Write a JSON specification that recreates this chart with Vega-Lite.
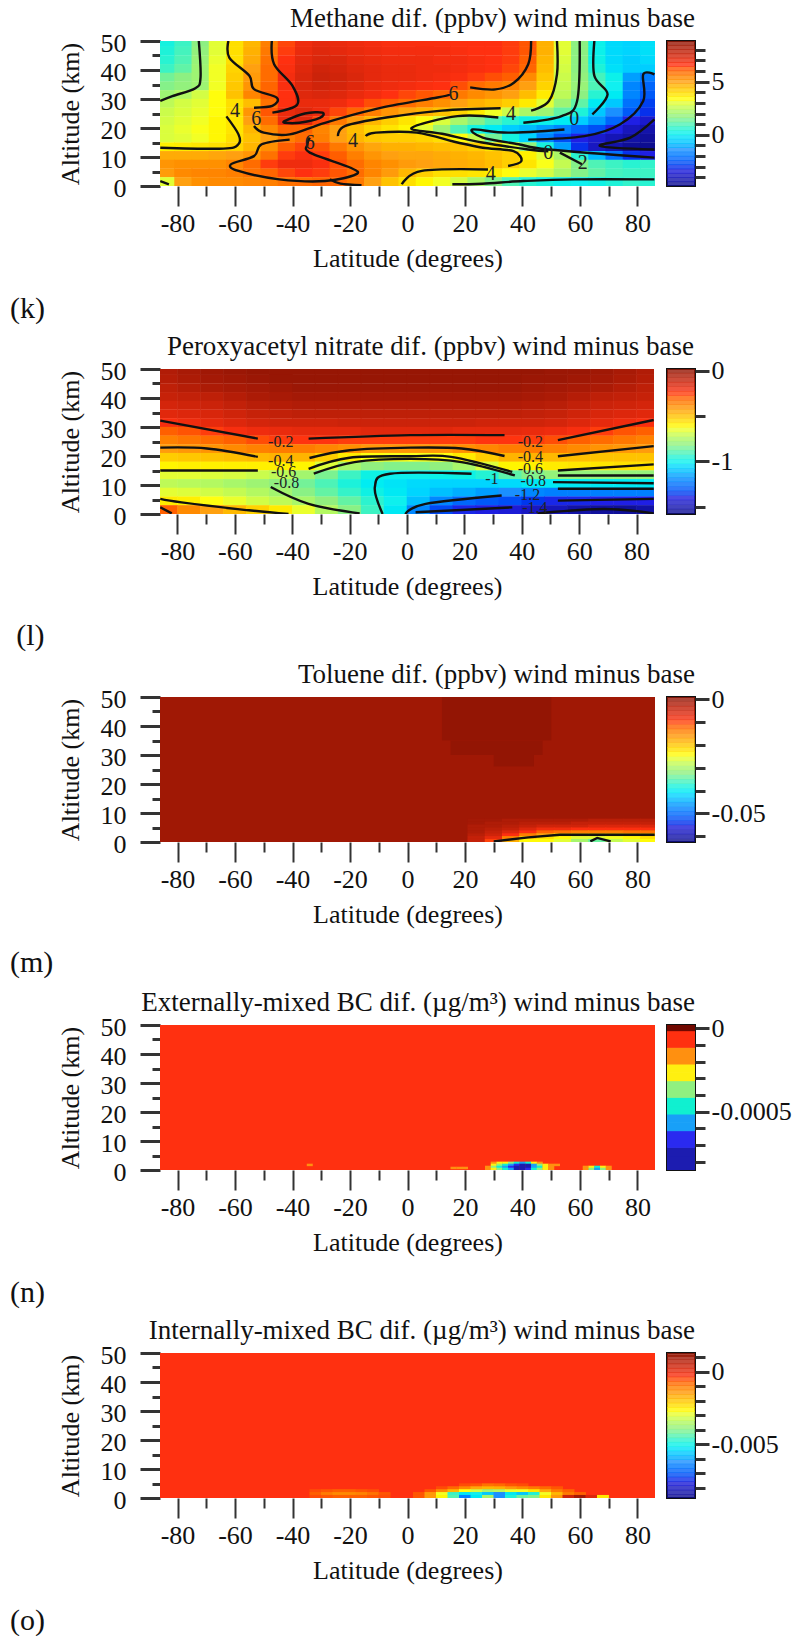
{"$schema":"https://vega.github.io/schema/vega-lite/v6.json","background":"white","padding":{"top":5,"left":0,"right":0,"bottom":0},"config":{"view":{"stroke":null},"axis":{"labelFont":"Liberation Serif","titleFont":"Liberation Serif","labelFontSize":26,"titleFontSize":26,"titleFontWeight":"normal","domain":false,"grid":false,"tickColor":"#333","labelColor":"#111","titleColor":"#111","labelOverlap":false,"labelFlush":false},"title":{"font":"Liberation Serif","fontSize":27,"fontWeight":"normal","color":"#111","anchor":"end","dx":40,"offset":-3}},
"datasets":{
"k":[{"lat":-84,"alt":49.5,"v":0.4},{"lat":-78,"alt":49.5,"v":0.8},{"lat":-72,"alt":49.5,"v":1.7},{"lat":-66,"alt":49.5,"v":3.0},{"lat":-60,"alt":49.5,"v":3.9},{"lat":-54,"alt":49.5,"v":4.6},{"lat":-48,"alt":49.5,"v":5.6},{"lat":-42,"alt":49.5,"v":6.4},{"lat":-36,"alt":49.5,"v":6.9},{"lat":-30,"alt":49.5,"v":7.1},{"lat":-24,"alt":49.5,"v":7.0},{"lat":-18,"alt":49.5,"v":6.9},{"lat":-12,"alt":49.5,"v":6.8},{"lat":-6,"alt":49.5,"v":6.7},{"lat":0,"alt":49.5,"v":6.7},{"lat":6,"alt":49.5,"v":6.7},{"lat":12,"alt":49.5,"v":6.7},{"lat":18,"alt":49.5,"v":6.6},{"lat":24,"alt":49.5,"v":6.6},{"lat":30,"alt":49.5,"v":6.6},{"lat":36,"alt":49.5,"v":6.5},{"lat":42,"alt":49.5,"v":6.2},{"lat":48,"alt":49.5,"v":4.7},{"lat":54,"alt":49.5,"v":3.0},{"lat":60,"alt":49.5,"v":1.7},{"lat":66,"alt":49.5,"v":0.2},{"lat":72,"alt":49.5,"v":-0.3},{"lat":78,"alt":49.5,"v":-0.4},{"lat":84,"alt":49.5,"v":-0.2},
{"lat":-84,"alt":46.5,"v":0.5},{"lat":-78,"alt":46.5,"v":0.9},{"lat":-72,"alt":46.5,"v":1.8},{"lat":-66,"alt":46.5,"v":3.0},{"lat":-60,"alt":46.5,"v":3.9},{"lat":-54,"alt":46.5,"v":4.7},{"lat":-48,"alt":46.5,"v":5.7},{"lat":-42,"alt":46.5,"v":6.5},{"lat":-36,"alt":46.5,"v":7.0},{"lat":-30,"alt":46.5,"v":7.2},{"lat":-24,"alt":46.5,"v":7.1},{"lat":-18,"alt":46.5,"v":7.0},{"lat":-12,"alt":46.5,"v":6.9},{"lat":-6,"alt":46.5,"v":6.8},{"lat":0,"alt":46.5,"v":6.8},{"lat":6,"alt":46.5,"v":6.8},{"lat":12,"alt":46.5,"v":6.8},{"lat":18,"alt":46.5,"v":6.7},{"lat":24,"alt":46.5,"v":6.6},{"lat":30,"alt":46.5,"v":6.6},{"lat":36,"alt":46.5,"v":6.5},{"lat":42,"alt":46.5,"v":6.2},{"lat":48,"alt":46.5,"v":4.7},{"lat":54,"alt":46.5,"v":3.0},{"lat":60,"alt":46.5,"v":1.7},{"lat":66,"alt":46.5,"v":0.2},{"lat":72,"alt":46.5,"v":-0.3},{"lat":78,"alt":46.5,"v":-0.4},{"lat":84,"alt":46.5,"v":-0.2},
{"lat":-84,"alt":43.5,"v":0.6},{"lat":-78,"alt":43.5,"v":1.0},{"lat":-72,"alt":43.5,"v":1.9},{"lat":-66,"alt":43.5,"v":3.1},{"lat":-60,"alt":43.5,"v":3.9},{"lat":-54,"alt":43.5,"v":4.8},{"lat":-48,"alt":43.5,"v":5.8},{"lat":-42,"alt":43.5,"v":6.6},{"lat":-36,"alt":43.5,"v":7.1},{"lat":-30,"alt":43.5,"v":7.3},{"lat":-24,"alt":43.5,"v":7.3},{"lat":-18,"alt":43.5,"v":7.1},{"lat":-12,"alt":43.5,"v":7.0},{"lat":-6,"alt":43.5,"v":6.9},{"lat":0,"alt":43.5,"v":6.9},{"lat":6,"alt":43.5,"v":6.9},{"lat":12,"alt":43.5,"v":6.8},{"lat":18,"alt":43.5,"v":6.8},{"lat":24,"alt":43.5,"v":6.7},{"lat":30,"alt":43.5,"v":6.6},{"lat":36,"alt":43.5,"v":6.5},{"lat":42,"alt":43.5,"v":6.1},{"lat":48,"alt":43.5,"v":4.6},{"lat":54,"alt":43.5,"v":2.9},{"lat":60,"alt":43.5,"v":1.7},{"lat":66,"alt":43.5,"v":0.3},{"lat":72,"alt":43.5,"v":-0.3},{"lat":78,"alt":43.5,"v":-0.5},{"lat":84,"alt":43.5,"v":-0.3},
{"lat":-84,"alt":40.5,"v":0.8},{"lat":-78,"alt":40.5,"v":1.2},{"lat":-72,"alt":40.5,"v":2.0},{"lat":-66,"alt":40.5,"v":3.2},{"lat":-60,"alt":40.5,"v":4.1},{"lat":-54,"alt":40.5,"v":5.0},{"lat":-48,"alt":40.5,"v":5.9},{"lat":-42,"alt":40.5,"v":6.7},{"lat":-36,"alt":40.5,"v":7.2},{"lat":-30,"alt":40.5,"v":7.5},{"lat":-24,"alt":40.5,"v":7.4},{"lat":-18,"alt":40.5,"v":7.2},{"lat":-12,"alt":40.5,"v":7.1},{"lat":-6,"alt":40.5,"v":7.0},{"lat":0,"alt":40.5,"v":7.0},{"lat":6,"alt":40.5,"v":6.9},{"lat":12,"alt":40.5,"v":6.9},{"lat":18,"alt":40.5,"v":6.8},{"lat":24,"alt":40.5,"v":6.7},{"lat":30,"alt":40.5,"v":6.6},{"lat":36,"alt":40.5,"v":6.4},{"lat":42,"alt":40.5,"v":6.0},{"lat":48,"alt":40.5,"v":4.5},{"lat":54,"alt":40.5,"v":2.8},{"lat":60,"alt":40.5,"v":1.7},{"lat":66,"alt":40.5,"v":0.5},{"lat":72,"alt":40.5,"v":-0.2},{"lat":78,"alt":40.5,"v":-0.5},{"lat":84,"alt":40.5,"v":-0.5},
{"lat":-84,"alt":37.5,"v":1.4},{"lat":-78,"alt":37.5,"v":1.7},{"lat":-72,"alt":37.5,"v":2.0},{"lat":-66,"alt":37.5,"v":3.2},{"lat":-60,"alt":37.5,"v":4.2},{"lat":-54,"alt":37.5,"v":5.1},{"lat":-48,"alt":37.5,"v":5.9},{"lat":-42,"alt":37.5,"v":6.8},{"lat":-36,"alt":37.5,"v":7.3},{"lat":-30,"alt":37.5,"v":7.6},{"lat":-24,"alt":37.5,"v":7.5},{"lat":-18,"alt":37.5,"v":7.3},{"lat":-12,"alt":37.5,"v":7.1},{"lat":-6,"alt":37.5,"v":7.0},{"lat":0,"alt":37.5,"v":7.0},{"lat":6,"alt":37.5,"v":6.9},{"lat":12,"alt":37.5,"v":6.8},{"lat":18,"alt":37.5,"v":6.7},{"lat":24,"alt":37.5,"v":6.5},{"lat":30,"alt":37.5,"v":6.3},{"lat":36,"alt":37.5,"v":6.1},{"lat":42,"alt":37.5,"v":5.4},{"lat":48,"alt":37.5,"v":4.3},{"lat":54,"alt":37.5,"v":2.7},{"lat":60,"alt":37.5,"v":1.8},{"lat":66,"alt":37.5,"v":0.9},{"lat":72,"alt":37.5,"v":0.2},{"lat":78,"alt":37.5,"v":-1.2},{"lat":84,"alt":37.5,"v":-1.8},
{"lat":-84,"alt":34.5,"v":1.6},{"lat":-78,"alt":34.5,"v":1.8},{"lat":-72,"alt":34.5,"v":2.0},{"lat":-66,"alt":34.5,"v":3.2},{"lat":-60,"alt":34.5,"v":4.3},{"lat":-54,"alt":34.5,"v":5.2},{"lat":-48,"alt":34.5,"v":6.0},{"lat":-42,"alt":34.5,"v":6.7},{"lat":-36,"alt":34.5,"v":7.3},{"lat":-30,"alt":34.5,"v":7.5},{"lat":-24,"alt":34.5,"v":7.4},{"lat":-18,"alt":34.5,"v":7.2},{"lat":-12,"alt":34.5,"v":7.0},{"lat":-6,"alt":34.5,"v":6.9},{"lat":0,"alt":34.5,"v":6.8},{"lat":6,"alt":34.5,"v":6.7},{"lat":12,"alt":34.5,"v":6.6},{"lat":18,"alt":34.5,"v":6.3},{"lat":24,"alt":34.5,"v":5.9},{"lat":30,"alt":34.5,"v":5.7},{"lat":36,"alt":34.5,"v":5.5},{"lat":42,"alt":34.5,"v":5.0},{"lat":48,"alt":34.5,"v":4.1},{"lat":54,"alt":34.5,"v":2.6},{"lat":60,"alt":34.5,"v":1.9},{"lat":66,"alt":34.5,"v":1.0},{"lat":72,"alt":34.5,"v":0.1},{"lat":78,"alt":34.5,"v":-1.6},{"lat":84,"alt":34.5,"v":-2.2},
{"lat":-84,"alt":31.5,"v":2.0},{"lat":-78,"alt":31.5,"v":2.3},{"lat":-72,"alt":31.5,"v":2.8},{"lat":-66,"alt":31.5,"v":3.4},{"lat":-60,"alt":31.5,"v":4.4},{"lat":-54,"alt":31.5,"v":5.5},{"lat":-48,"alt":31.5,"v":6.1},{"lat":-42,"alt":31.5,"v":6.6},{"lat":-36,"alt":31.5,"v":7.2},{"lat":-30,"alt":31.5,"v":7.3},{"lat":-24,"alt":31.5,"v":7.2},{"lat":-18,"alt":31.5,"v":7.0},{"lat":-12,"alt":31.5,"v":6.8},{"lat":-6,"alt":31.5,"v":6.6},{"lat":0,"alt":31.5,"v":6.4},{"lat":6,"alt":31.5,"v":6.2},{"lat":12,"alt":31.5,"v":6.0},{"lat":18,"alt":31.5,"v":5.7},{"lat":24,"alt":31.5,"v":5.4},{"lat":30,"alt":31.5,"v":5.2},{"lat":36,"alt":31.5,"v":5.0},{"lat":42,"alt":31.5,"v":4.5},{"lat":48,"alt":31.5,"v":3.7},{"lat":54,"alt":31.5,"v":2.5},{"lat":60,"alt":31.5,"v":1.7},{"lat":66,"alt":31.5,"v":0.6},{"lat":72,"alt":31.5,"v":0.0},{"lat":78,"alt":31.5,"v":-1.6},{"lat":84,"alt":31.5,"v":-2.4},
{"lat":-84,"alt":28.5,"v":2.5},{"lat":-78,"alt":28.5,"v":2.8},{"lat":-72,"alt":28.5,"v":3.0},{"lat":-66,"alt":28.5,"v":3.4},{"lat":-60,"alt":28.5,"v":3.9},{"lat":-54,"alt":28.5,"v":4.5},{"lat":-48,"alt":28.5,"v":5.8},{"lat":-42,"alt":28.5,"v":6.6},{"lat":-36,"alt":28.5,"v":7.0},{"lat":-30,"alt":28.5,"v":7.0},{"lat":-24,"alt":28.5,"v":6.9},{"lat":-18,"alt":28.5,"v":6.6},{"lat":-12,"alt":28.5,"v":6.3},{"lat":-6,"alt":28.5,"v":6.1},{"lat":0,"alt":28.5,"v":5.9},{"lat":6,"alt":28.5,"v":5.6},{"lat":12,"alt":28.5,"v":5.3},{"lat":18,"alt":28.5,"v":5.0},{"lat":24,"alt":28.5,"v":4.7},{"lat":30,"alt":28.5,"v":4.5},{"lat":36,"alt":28.5,"v":4.2},{"lat":42,"alt":28.5,"v":3.7},{"lat":48,"alt":28.5,"v":3.0},{"lat":54,"alt":28.5,"v":2.0},{"lat":60,"alt":28.5,"v":1.2},{"lat":66,"alt":28.5,"v":0.0},{"lat":72,"alt":28.5,"v":-0.6},{"lat":78,"alt":28.5,"v":-2.0},{"lat":84,"alt":28.5,"v":-2.8},
{"lat":-84,"alt":25.5,"v":2.7},{"lat":-78,"alt":25.5,"v":2.9},{"lat":-72,"alt":25.5,"v":3.1},{"lat":-66,"alt":25.5,"v":3.4},{"lat":-60,"alt":25.5,"v":3.9},{"lat":-54,"alt":25.5,"v":5.2},{"lat":-48,"alt":25.5,"v":6.2},{"lat":-42,"alt":25.5,"v":7.0},{"lat":-36,"alt":25.5,"v":7.2},{"lat":-30,"alt":25.5,"v":6.9},{"lat":-24,"alt":25.5,"v":6.4},{"lat":-18,"alt":25.5,"v":6.0},{"lat":-12,"alt":25.5,"v":5.6},{"lat":-6,"alt":25.5,"v":5.2},{"lat":0,"alt":25.5,"v":4.9},{"lat":6,"alt":25.5,"v":4.7},{"lat":12,"alt":25.5,"v":4.4},{"lat":18,"alt":25.5,"v":4.1},{"lat":24,"alt":25.5,"v":3.7},{"lat":30,"alt":25.5,"v":3.2},{"lat":36,"alt":25.5,"v":2.7},{"lat":42,"alt":25.5,"v":2.2},{"lat":48,"alt":25.5,"v":2.0},{"lat":54,"alt":25.5,"v":1.2},{"lat":60,"alt":25.5,"v":0.5},{"lat":66,"alt":25.5,"v":-0.6},{"lat":72,"alt":25.5,"v":-1.4},{"lat":78,"alt":25.5,"v":-2.4},{"lat":84,"alt":25.5,"v":-3.0},
{"lat":-84,"alt":22.5,"v":2.8},{"lat":-78,"alt":22.5,"v":3.0},{"lat":-72,"alt":22.5,"v":3.2},{"lat":-66,"alt":22.5,"v":3.5},{"lat":-60,"alt":22.5,"v":3.8},{"lat":-54,"alt":22.5,"v":5.0},{"lat":-48,"alt":22.5,"v":5.9},{"lat":-42,"alt":22.5,"v":7.0},{"lat":-36,"alt":22.5,"v":7.2},{"lat":-30,"alt":22.5,"v":6.4},{"lat":-24,"alt":22.5,"v":5.7},{"lat":-18,"alt":22.5,"v":5.1},{"lat":-12,"alt":22.5,"v":4.6},{"lat":-6,"alt":22.5,"v":4.2},{"lat":0,"alt":22.5,"v":3.8},{"lat":6,"alt":22.5,"v":3.4},{"lat":12,"alt":22.5,"v":2.9},{"lat":18,"alt":22.5,"v":2.2},{"lat":24,"alt":22.5,"v":1.6},{"lat":30,"alt":22.5,"v":1.0},{"lat":36,"alt":22.5,"v":0.6},{"lat":42,"alt":22.5,"v":0.3},{"lat":48,"alt":22.5,"v":0.2},{"lat":54,"alt":22.5,"v":0.0},{"lat":60,"alt":22.5,"v":-0.5},{"lat":66,"alt":22.5,"v":-1.2},{"lat":72,"alt":22.5,"v":-2.2},{"lat":78,"alt":22.5,"v":-3.2},{"lat":84,"alt":22.5,"v":-3.6},
{"lat":-84,"alt":19.5,"v":2.9},{"lat":-78,"alt":19.5,"v":3.1},{"lat":-72,"alt":19.5,"v":3.3},{"lat":-66,"alt":19.5,"v":3.5},{"lat":-60,"alt":19.5,"v":3.8},{"lat":-54,"alt":19.5,"v":4.6},{"lat":-48,"alt":19.5,"v":5.4},{"lat":-42,"alt":19.5,"v":6.0},{"lat":-36,"alt":19.5,"v":6.0},{"lat":-30,"alt":19.5,"v":5.5},{"lat":-24,"alt":19.5,"v":5.0},{"lat":-18,"alt":19.5,"v":4.5},{"lat":-12,"alt":19.5,"v":4.1},{"lat":-6,"alt":19.5,"v":3.8},{"lat":0,"alt":19.5,"v":3.5},{"lat":6,"alt":19.5,"v":3.0},{"lat":12,"alt":19.5,"v":2.0},{"lat":18,"alt":19.5,"v":1.0},{"lat":24,"alt":19.5,"v":0.4},{"lat":30,"alt":19.5,"v":0.0},{"lat":36,"alt":19.5,"v":-0.5},{"lat":42,"alt":19.5,"v":-0.8},{"lat":48,"alt":19.5,"v":-1.2},{"lat":54,"alt":19.5,"v":-1.6},{"lat":60,"alt":19.5,"v":-2.2},{"lat":66,"alt":19.5,"v":-2.6},{"lat":72,"alt":19.5,"v":-3.2},{"lat":78,"alt":19.5,"v":-3.9},{"lat":84,"alt":19.5,"v":-4.2},
{"lat":-84,"alt":16.5,"v":2.9},{"lat":-78,"alt":16.5,"v":3.0},{"lat":-72,"alt":16.5,"v":3.2},{"lat":-66,"alt":16.5,"v":3.5},{"lat":-60,"alt":16.5,"v":3.9},{"lat":-54,"alt":16.5,"v":4.4},{"lat":-48,"alt":16.5,"v":5.0},{"lat":-42,"alt":16.5,"v":5.6},{"lat":-36,"alt":16.5,"v":5.9},{"lat":-30,"alt":16.5,"v":5.6},{"lat":-24,"alt":16.5,"v":5.0},{"lat":-18,"alt":16.5,"v":4.6},{"lat":-12,"alt":16.5,"v":4.3},{"lat":-6,"alt":16.5,"v":4.2},{"lat":0,"alt":16.5,"v":4.2},{"lat":6,"alt":16.5,"v":4.1},{"lat":12,"alt":16.5,"v":3.9},{"lat":18,"alt":16.5,"v":3.4},{"lat":24,"alt":16.5,"v":2.6},{"lat":30,"alt":16.5,"v":1.4},{"lat":36,"alt":16.5,"v":0.4},{"lat":42,"alt":16.5,"v":-0.4},{"lat":48,"alt":16.5,"v":-1.6},{"lat":54,"alt":16.5,"v":-2.6},{"lat":60,"alt":16.5,"v":-3.2},{"lat":66,"alt":16.5,"v":-3.6},{"lat":72,"alt":16.5,"v":-4.0},{"lat":78,"alt":16.5,"v":-4.3},{"lat":84,"alt":16.5,"v":-4.5},
{"lat":-84,"alt":13.5,"v":3.6},{"lat":-78,"alt":13.5,"v":3.7},{"lat":-72,"alt":13.5,"v":3.8},{"lat":-66,"alt":13.5,"v":3.9},{"lat":-60,"alt":13.5,"v":4.1},{"lat":-54,"alt":13.5,"v":4.6},{"lat":-48,"alt":13.5,"v":5.3},{"lat":-42,"alt":13.5,"v":6.1},{"lat":-36,"alt":13.5,"v":6.4},{"lat":-30,"alt":13.5,"v":6.2},{"lat":-24,"alt":13.5,"v":5.7},{"lat":-18,"alt":13.5,"v":5.2},{"lat":-12,"alt":13.5,"v":4.9},{"lat":-6,"alt":13.5,"v":4.7},{"lat":0,"alt":13.5,"v":4.7},{"lat":6,"alt":13.5,"v":4.6},{"lat":12,"alt":13.5,"v":4.5},{"lat":18,"alt":13.5,"v":4.4},{"lat":24,"alt":13.5,"v":4.2},{"lat":30,"alt":13.5,"v":3.8},{"lat":36,"alt":13.5,"v":3.0},{"lat":42,"alt":13.5,"v":1.8},{"lat":48,"alt":13.5,"v":0.4},{"lat":54,"alt":13.5,"v":-1.2},{"lat":60,"alt":13.5,"v":-3.0},{"lat":66,"alt":13.5,"v":-3.8},{"lat":72,"alt":13.5,"v":-4.2},{"lat":78,"alt":13.5,"v":-4.6},{"lat":84,"alt":13.5,"v":-4.7},
{"lat":-84,"alt":10.5,"v":4.8},{"lat":-78,"alt":10.5,"v":4.8},{"lat":-72,"alt":10.5,"v":4.8},{"lat":-66,"alt":10.5,"v":4.9},{"lat":-60,"alt":10.5,"v":5.0},{"lat":-54,"alt":10.5,"v":5.2},{"lat":-48,"alt":10.5,"v":5.8},{"lat":-42,"alt":10.5,"v":6.5},{"lat":-36,"alt":10.5,"v":6.7},{"lat":-30,"alt":10.5,"v":6.5},{"lat":-24,"alt":10.5,"v":6.1},{"lat":-18,"alt":10.5,"v":5.6},{"lat":-12,"alt":10.5,"v":5.2},{"lat":-6,"alt":10.5,"v":5.0},{"lat":0,"alt":10.5,"v":4.9},{"lat":6,"alt":10.5,"v":4.9},{"lat":12,"alt":10.5,"v":4.8},{"lat":18,"alt":10.5,"v":4.7},{"lat":24,"alt":10.5,"v":4.6},{"lat":30,"alt":10.5,"v":4.4},{"lat":36,"alt":10.5,"v":4.2},{"lat":42,"alt":10.5,"v":3.6},{"lat":48,"alt":10.5,"v":3.0},{"lat":54,"alt":10.5,"v":2.2},{"lat":60,"alt":10.5,"v":0.6},{"lat":66,"alt":10.5,"v":-0.8},{"lat":72,"alt":10.5,"v":-2.0},{"lat":78,"alt":10.5,"v":-3.0},{"lat":84,"alt":10.5,"v":-3.2},
{"lat":-84,"alt":7.5,"v":5.2},{"lat":-78,"alt":7.5,"v":5.3},{"lat":-72,"alt":7.5,"v":5.3},{"lat":-66,"alt":7.5,"v":5.3},{"lat":-60,"alt":7.5,"v":5.5},{"lat":-54,"alt":7.5,"v":5.9},{"lat":-48,"alt":7.5,"v":6.5},{"lat":-42,"alt":7.5,"v":6.9},{"lat":-36,"alt":7.5,"v":6.9},{"lat":-30,"alt":7.5,"v":6.7},{"lat":-24,"alt":7.5,"v":6.3},{"lat":-18,"alt":7.5,"v":5.9},{"lat":-12,"alt":7.5,"v":5.5},{"lat":-6,"alt":7.5,"v":5.3},{"lat":0,"alt":7.5,"v":5.1},{"lat":6,"alt":7.5,"v":5.0},{"lat":12,"alt":7.5,"v":4.9},{"lat":18,"alt":7.5,"v":4.8},{"lat":24,"alt":7.5,"v":4.7},{"lat":30,"alt":7.5,"v":4.5},{"lat":36,"alt":7.5,"v":4.2},{"lat":42,"alt":7.5,"v":3.8},{"lat":48,"alt":7.5,"v":3.3},{"lat":54,"alt":7.5,"v":2.6},{"lat":60,"alt":7.5,"v":1.6},{"lat":66,"alt":7.5,"v":1.0},{"lat":72,"alt":7.5,"v":0.8},{"lat":78,"alt":7.5,"v":0.6},{"lat":84,"alt":7.5,"v":0.7},
{"lat":-84,"alt":4.5,"v":5.1},{"lat":-78,"alt":4.5,"v":5.4},{"lat":-72,"alt":4.5,"v":5.5},{"lat":-66,"alt":4.5,"v":5.5},{"lat":-60,"alt":4.5,"v":5.6},{"lat":-54,"alt":4.5,"v":5.8},{"lat":-48,"alt":4.5,"v":6.0},{"lat":-42,"alt":4.5,"v":6.4},{"lat":-36,"alt":4.5,"v":6.6},{"lat":-30,"alt":4.5,"v":6.5},{"lat":-24,"alt":4.5,"v":6.2},{"lat":-18,"alt":4.5,"v":5.9},{"lat":-12,"alt":4.5,"v":5.5},{"lat":-6,"alt":4.5,"v":5.1},{"lat":0,"alt":4.5,"v":4.6},{"lat":6,"alt":4.5,"v":4.2},{"lat":12,"alt":4.5,"v":3.9},{"lat":18,"alt":4.5,"v":3.9},{"lat":24,"alt":4.5,"v":3.8},{"lat":30,"alt":4.5,"v":3.7},{"lat":36,"alt":4.5,"v":3.4},{"lat":42,"alt":4.5,"v":3.1},{"lat":48,"alt":4.5,"v":2.8},{"lat":54,"alt":4.5,"v":2.2},{"lat":60,"alt":4.5,"v":1.6},{"lat":66,"alt":4.5,"v":1.2},{"lat":72,"alt":4.5,"v":0.9},{"lat":78,"alt":4.5,"v":0.8},{"lat":84,"alt":4.5,"v":0.8},
{"lat":-84,"alt":1.5,"v":3.0},{"lat":-78,"alt":1.5,"v":5.0},{"lat":-72,"alt":1.5,"v":5.3},{"lat":-66,"alt":1.5,"v":5.4},{"lat":-60,"alt":1.5,"v":5.4},{"lat":-54,"alt":1.5,"v":5.5},{"lat":-48,"alt":1.5,"v":5.6},{"lat":-42,"alt":1.5,"v":5.8},{"lat":-36,"alt":1.5,"v":5.9},{"lat":-30,"alt":1.5,"v":6.0},{"lat":-24,"alt":1.5,"v":6.0},{"lat":-18,"alt":1.5,"v":5.7},{"lat":-12,"alt":1.5,"v":5.0},{"lat":-6,"alt":1.5,"v":4.4},{"lat":0,"alt":1.5,"v":3.9},{"lat":6,"alt":1.5,"v":3.5},{"lat":12,"alt":1.5,"v":3.2},{"lat":18,"alt":1.5,"v":2.8},{"lat":24,"alt":1.5,"v":2.2},{"lat":30,"alt":1.5,"v":1.6},{"lat":36,"alt":1.5,"v":1.0},{"lat":42,"alt":1.5,"v":0.6},{"lat":48,"alt":1.5,"v":0.4},{"lat":54,"alt":1.5,"v":0.2},{"lat":60,"alt":1.5,"v":0.1},{"lat":66,"alt":1.5,"v":0.3},{"lat":72,"alt":1.5,"v":0.5},{"lat":78,"alt":1.5,"v":0.7},{"lat":84,"alt":1.5,"v":0.6}],
"kc":[{"c":"a","lat":-72.6,"alt":50},{"c":"a","lat":-72,"alt":37.4},{"c":"a","lat":-73.8,"alt":33.7},{"c":"a","lat":-81.8,"alt":31},{"c":"a","lat":-86,"alt":29.3},
{"c":"b","lat":-62.3,"alt":50},{"c":"b","lat":-62,"alt":44.3},{"c":"b","lat":-55,"alt":38},{"c":"b","lat":-53.4,"alt":33.4},{"c":"b","lat":-45.5,"alt":30.5},{"c":"b","lat":-47,"alt":27.6},{"c":"b","lat":-53.4,"alt":27},
{"c":"b2","lat":-63,"alt":24},{"c":"b2","lat":-58.8,"alt":17.8},{"c":"b2","lat":-58.8,"alt":14.4},{"c":"b2","lat":-64,"alt":12.9},{"c":"b2","lat":-86,"alt":13.2},
{"c":"c","lat":-47.2,"alt":50},{"c":"c","lat":-46.4,"alt":42},{"c":"c","lat":-40,"alt":34.5},{"c":"c","lat":-38.4,"alt":28},{"c":"c","lat":-47,"alt":25.3},
{"c":"c2","lat":-53.4,"alt":20.7},{"c":"c2","lat":-50,"alt":18.4},{"c":"c2","lat":-41,"alt":17.8},{"c":"c2","lat":-28.7,"alt":21.8},{"c":"c2","lat":-9,"alt":27},{"c":"c2","lat":10.4,"alt":30.5},{"c":"c2","lat":14.8,"alt":31.6},
{"c":"c3","lat":21.8,"alt":34},{"c":"c3","lat":30.6,"alt":33.3},{"c":"c3","lat":37,"alt":35.6},{"c":"c3","lat":42,"alt":42},{"c":"c3","lat":43,"alt":50},
{"c":"s","lat":-42.8,"alt":22.4},{"c":"s","lat":-35.7,"alt":25},{"c":"s","lat":-29.6,"alt":25.3},{"c":"s","lat":-30.5,"alt":23.5},{"c":"s","lat":-37.6,"alt":21.8},{"c":"s","lat":-42.8,"alt":21.8},{"c":"s","lat":-42.8,"alt":22.4},
{"c":"r","lat":-41,"alt":16},{"c":"r","lat":-50.7,"alt":14.4},{"c":"r","lat":-53.4,"alt":10.3},{"c":"r","lat":-61.4,"alt":7.5},{"c":"r","lat":-58.8,"alt":5.2},{"c":"r","lat":-44.6,"alt":2.3},{"c":"r","lat":-28.7,"alt":1.7},{"c":"r","lat":-18,"alt":4},{"c":"r","lat":-19.8,"alt":6.3},{"c":"r","lat":-34,"alt":11.5},{"c":"r","lat":-34.8,"alt":14.4},{"c":"r","lat":-34,"alt":16.7},
{"c":"r2","lat":-27,"alt":2.3},{"c":"r2","lat":-23.3,"alt":0.8},{"c":"r2","lat":-16,"alt":0.3},
{"c":"d","lat":-24.2,"alt":17.2},{"c":"d","lat":-21.6,"alt":20.7},{"c":"d","lat":-7.4,"alt":23.6},{"c":"d","lat":12,"alt":26},{"c":"d","lat":32.4,"alt":26.8},
{"c":"d2","lat":43,"alt":26},{"c":"d2","lat":49.2,"alt":29.3},{"c":"d2","lat":52,"alt":38.5},{"c":"d2","lat":52,"alt":50},
{"c":"d3","lat":-14.5,"alt":17.2},{"c":"d3","lat":-11,"alt":18.4},{"c":"d3","lat":3.2,"alt":18.4},{"c":"d3","lat":17.4,"alt":15},{"c":"d3","lat":26.2,"alt":13.2},{"c":"d3","lat":36.9,"alt":12},{"c":"d3","lat":39.6,"alt":8.6},{"c":"d3","lat":35,"alt":6.9},
{"c":"d4","lat":28,"alt":5.7},{"c":"d4","lat":5,"alt":5.2},{"c":"d4","lat":-2,"alt":0.6},
{"c":"e","lat":40.3,"alt":21.8},{"c":"e","lat":53.6,"alt":24.1},{"c":"e","lat":59,"alt":29.3},{"c":"e","lat":59.9,"alt":50},
{"c":"e2","lat":31.6,"alt":23.6},{"c":"e2","lat":17.4,"alt":24.1},{"c":"e2","lat":1.4,"alt":20},{"c":"e2","lat":12,"alt":18},{"c":"e2","lat":26,"alt":15},{"c":"e2","lat":42,"alt":12.6},{"c":"e2","lat":49,"alt":12},
{"c":"e3","lat":53,"alt":11.5},{"c":"e3","lat":60.7,"alt":7.5},
{"c":"f","lat":65,"alt":50},{"c":"f","lat":65,"alt":38},{"c":"f","lat":69.6,"alt":31.6},{"c":"f","lat":64.3,"alt":24.7},
{"c":"f2","lat":54.6,"alt":19.5},{"c":"f2","lat":35,"alt":18.4},{"c":"f2","lat":22.7,"alt":19.5},{"c":"f2","lat":26.2,"alt":16.7},{"c":"f2","lat":38.6,"alt":14.4},{"c":"f2","lat":49,"alt":12.6},{"c":"f2","lat":85.9,"alt":9.8},
{"c":"g","lat":85.9,"alt":38.5},{"c":"g","lat":82,"alt":38.5},{"c":"g","lat":82,"alt":29.3},{"c":"g","lat":74,"alt":21.3},{"c":"g","lat":61.6,"alt":17.2},{"c":"g","lat":42,"alt":16},
{"c":"h","lat":85.9,"alt":23},{"c":"h","lat":77.5,"alt":16.7},{"c":"h","lat":67,"alt":13.8},{"c":"h","lat":85.9,"alt":12.6},
{"c":"i","lat":15.6,"alt":0.6},{"c":"i","lat":26,"alt":0.8},{"c":"i","lat":40.3,"alt":1.7},{"c":"i","lat":58,"alt":2.3},{"c":"i","lat":85.9,"alt":2.3},
{"c":"j","lat":-86,"alt":1.7},{"c":"j","lat":-83,"alt":0.6}],
"kt":[{"lat":-60,"alt":25.9,"t":"4"},{"lat":-52.6,"alt":23,"t":"6"},{"lat":16,"alt":31.6,"t":"6"},{"lat":-34,"alt":15,"t":"6"},{"lat":-19,"alt":15.5,"t":"4"},{"lat":36,"alt":24.7,"t":"4"},{"lat":58,"alt":23,"t":"0"},{"lat":49,"alt":11.5,"t":"0"},{"lat":61,"alt":8,"t":"2"},{"lat":29,"alt":4,"t":"4"}],
"l":[{"lat":-84,"alt":49.5,"v":-0.06},{"lat":-76,"alt":49.5,"v":-0.04},{"lat":-68,"alt":49.5,"v":-0.02},{"lat":-60,"alt":49.5,"v":-0.01},{"lat":-52,"alt":49.5,"v":0},{"lat":-44,"alt":49.5,"v":0},{"lat":-36,"alt":49.5,"v":0},{"lat":-28,"alt":49.5,"v":0},{"lat":-20,"alt":49.5,"v":0},{"lat":-12,"alt":49.5,"v":0},{"lat":-4,"alt":49.5,"v":0},{"lat":4,"alt":49.5,"v":0},{"lat":12,"alt":49.5,"v":0},{"lat":20,"alt":49.5,"v":0},{"lat":28,"alt":49.5,"v":0},{"lat":36,"alt":49.5,"v":0},{"lat":44,"alt":49.5,"v":0},{"lat":52,"alt":49.5,"v":-0.01},{"lat":60,"alt":49.5,"v":-0.01},{"lat":68,"alt":49.5,"v":-0.02},{"lat":76,"alt":49.5,"v":-0.04},{"lat":84,"alt":49.5,"v":-0.06},
{"lat":-84,"alt":46.5,"v":-0.07},{"lat":-76,"alt":46.5,"v":-0.05},{"lat":-68,"alt":46.5,"v":-0.03},{"lat":-60,"alt":46.5,"v":-0.02},{"lat":-52,"alt":46.5,"v":-0.01},{"lat":-44,"alt":46.5,"v":0},{"lat":-36,"alt":46.5,"v":0},{"lat":-28,"alt":46.5,"v":0},{"lat":-20,"alt":46.5,"v":0},{"lat":-12,"alt":46.5,"v":0},{"lat":-4,"alt":46.5,"v":0},{"lat":4,"alt":46.5,"v":0},{"lat":12,"alt":46.5,"v":0},{"lat":20,"alt":46.5,"v":0},{"lat":28,"alt":46.5,"v":0},{"lat":36,"alt":46.5,"v":0},{"lat":44,"alt":46.5,"v":-0.01},{"lat":52,"alt":46.5,"v":-0.01},{"lat":60,"alt":46.5,"v":-0.02},{"lat":68,"alt":46.5,"v":-0.03},{"lat":76,"alt":46.5,"v":-0.05},{"lat":84,"alt":46.5,"v":-0.07},
{"lat":-84,"alt":43.5,"v":-0.09},{"lat":-76,"alt":43.5,"v":-0.07},{"lat":-68,"alt":43.5,"v":-0.05},{"lat":-60,"alt":43.5,"v":-0.04},{"lat":-52,"alt":43.5,"v":-0.03},{"lat":-44,"alt":43.5,"v":-0.02},{"lat":-36,"alt":43.5,"v":-0.01},{"lat":-28,"alt":43.5,"v":-0.01},{"lat":-20,"alt":43.5,"v":-0.01},{"lat":-12,"alt":43.5,"v":-0.01},{"lat":-4,"alt":43.5,"v":-0.01},{"lat":4,"alt":43.5,"v":-0.01},{"lat":12,"alt":43.5,"v":-0.01},{"lat":20,"alt":43.5,"v":-0.01},{"lat":28,"alt":43.5,"v":-0.01},{"lat":36,"alt":43.5,"v":-0.01},{"lat":44,"alt":43.5,"v":-0.02},{"lat":52,"alt":43.5,"v":-0.03},{"lat":60,"alt":43.5,"v":-0.04},{"lat":68,"alt":43.5,"v":-0.05},{"lat":76,"alt":43.5,"v":-0.07},{"lat":84,"alt":43.5,"v":-0.09},
{"lat":-84,"alt":40.5,"v":-0.11},{"lat":-76,"alt":40.5,"v":-0.1},{"lat":-68,"alt":40.5,"v":-0.09},{"lat":-60,"alt":40.5,"v":-0.07},{"lat":-52,"alt":40.5,"v":-0.05},{"lat":-44,"alt":40.5,"v":-0.04},{"lat":-36,"alt":40.5,"v":-0.03},{"lat":-28,"alt":40.5,"v":-0.03},{"lat":-20,"alt":40.5,"v":-0.03},{"lat":-12,"alt":40.5,"v":-0.03},{"lat":-4,"alt":40.5,"v":-0.03},{"lat":4,"alt":40.5,"v":-0.03},{"lat":12,"alt":40.5,"v":-0.03},{"lat":20,"alt":40.5,"v":-0.03},{"lat":28,"alt":40.5,"v":-0.03},{"lat":36,"alt":40.5,"v":-0.03},{"lat":44,"alt":40.5,"v":-0.04},{"lat":52,"alt":40.5,"v":-0.05},{"lat":60,"alt":40.5,"v":-0.07},{"lat":68,"alt":40.5,"v":-0.09},{"lat":76,"alt":40.5,"v":-0.1},{"lat":84,"alt":40.5,"v":-0.11},
{"lat":-84,"alt":37.5,"v":-0.14},{"lat":-76,"alt":37.5,"v":-0.13},{"lat":-68,"alt":37.5,"v":-0.12},{"lat":-60,"alt":37.5,"v":-0.1},{"lat":-52,"alt":37.5,"v":-0.08},{"lat":-44,"alt":37.5,"v":-0.07},{"lat":-36,"alt":37.5,"v":-0.06},{"lat":-28,"alt":37.5,"v":-0.06},{"lat":-20,"alt":37.5,"v":-0.06},{"lat":-12,"alt":37.5,"v":-0.06},{"lat":-4,"alt":37.5,"v":-0.06},{"lat":4,"alt":37.5,"v":-0.06},{"lat":12,"alt":37.5,"v":-0.06},{"lat":20,"alt":37.5,"v":-0.06},{"lat":28,"alt":37.5,"v":-0.06},{"lat":36,"alt":37.5,"v":-0.06},{"lat":44,"alt":37.5,"v":-0.07},{"lat":52,"alt":37.5,"v":-0.08},{"lat":60,"alt":37.5,"v":-0.1},{"lat":68,"alt":37.5,"v":-0.12},{"lat":76,"alt":37.5,"v":-0.13},{"lat":84,"alt":37.5,"v":-0.14},
{"lat":-84,"alt":34.5,"v":-0.17},{"lat":-76,"alt":34.5,"v":-0.16},{"lat":-68,"alt":34.5,"v":-0.15},{"lat":-60,"alt":34.5,"v":-0.13},{"lat":-52,"alt":34.5,"v":-0.11},{"lat":-44,"alt":34.5,"v":-0.1},{"lat":-36,"alt":34.5,"v":-0.09},{"lat":-28,"alt":34.5,"v":-0.09},{"lat":-20,"alt":34.5,"v":-0.09},{"lat":-12,"alt":34.5,"v":-0.09},{"lat":-4,"alt":34.5,"v":-0.09},{"lat":4,"alt":34.5,"v":-0.09},{"lat":12,"alt":34.5,"v":-0.09},{"lat":20,"alt":34.5,"v":-0.09},{"lat":28,"alt":34.5,"v":-0.09},{"lat":36,"alt":34.5,"v":-0.09},{"lat":44,"alt":34.5,"v":-0.1},{"lat":52,"alt":34.5,"v":-0.11},{"lat":60,"alt":34.5,"v":-0.13},{"lat":68,"alt":34.5,"v":-0.15},{"lat":76,"alt":34.5,"v":-0.16},{"lat":84,"alt":34.5,"v":-0.17},
{"lat":-84,"alt":31.5,"v":-0.22},{"lat":-76,"alt":31.5,"v":-0.2},{"lat":-68,"alt":31.5,"v":-0.18},{"lat":-60,"alt":31.5,"v":-0.16},{"lat":-52,"alt":31.5,"v":-0.14},{"lat":-44,"alt":31.5,"v":-0.13},{"lat":-36,"alt":31.5,"v":-0.13},{"lat":-28,"alt":31.5,"v":-0.13},{"lat":-20,"alt":31.5,"v":-0.12},{"lat":-12,"alt":31.5,"v":-0.12},{"lat":-4,"alt":31.5,"v":-0.12},{"lat":4,"alt":31.5,"v":-0.12},{"lat":12,"alt":31.5,"v":-0.12},{"lat":20,"alt":31.5,"v":-0.12},{"lat":28,"alt":31.5,"v":-0.13},{"lat":36,"alt":31.5,"v":-0.13},{"lat":44,"alt":31.5,"v":-0.13},{"lat":52,"alt":31.5,"v":-0.14},{"lat":60,"alt":31.5,"v":-0.16},{"lat":68,"alt":31.5,"v":-0.18},{"lat":76,"alt":31.5,"v":-0.2},{"lat":84,"alt":31.5,"v":-0.22},
{"lat":-84,"alt":28.5,"v":-0.3},{"lat":-76,"alt":28.5,"v":-0.28},{"lat":-68,"alt":28.5,"v":-0.25},{"lat":-60,"alt":28.5,"v":-0.22},{"lat":-52,"alt":28.5,"v":-0.2},{"lat":-44,"alt":28.5,"v":-0.19},{"lat":-36,"alt":28.5,"v":-0.18},{"lat":-28,"alt":28.5,"v":-0.18},{"lat":-20,"alt":28.5,"v":-0.18},{"lat":-12,"alt":28.5,"v":-0.17},{"lat":-4,"alt":28.5,"v":-0.17},{"lat":4,"alt":28.5,"v":-0.17},{"lat":12,"alt":28.5,"v":-0.17},{"lat":20,"alt":28.5,"v":-0.18},{"lat":28,"alt":28.5,"v":-0.18},{"lat":36,"alt":28.5,"v":-0.18},{"lat":44,"alt":28.5,"v":-0.19},{"lat":52,"alt":28.5,"v":-0.2},{"lat":60,"alt":28.5,"v":-0.22},{"lat":68,"alt":28.5,"v":-0.25},{"lat":76,"alt":28.5,"v":-0.28},{"lat":84,"alt":28.5,"v":-0.3},
{"lat":-84,"alt":25.5,"v":-0.36},{"lat":-76,"alt":25.5,"v":-0.34},{"lat":-68,"alt":25.5,"v":-0.32},{"lat":-60,"alt":25.5,"v":-0.3},{"lat":-52,"alt":25.5,"v":-0.27},{"lat":-44,"alt":25.5,"v":-0.25},{"lat":-36,"alt":25.5,"v":-0.24},{"lat":-28,"alt":25.5,"v":-0.24},{"lat":-20,"alt":25.5,"v":-0.25},{"lat":-12,"alt":25.5,"v":-0.25},{"lat":-4,"alt":25.5,"v":-0.25},{"lat":4,"alt":25.5,"v":-0.25},{"lat":12,"alt":25.5,"v":-0.25},{"lat":20,"alt":25.5,"v":-0.25},{"lat":28,"alt":25.5,"v":-0.24},{"lat":36,"alt":25.5,"v":-0.24},{"lat":44,"alt":25.5,"v":-0.25},{"lat":52,"alt":25.5,"v":-0.27},{"lat":60,"alt":25.5,"v":-0.3},{"lat":68,"alt":25.5,"v":-0.32},{"lat":76,"alt":25.5,"v":-0.34},{"lat":84,"alt":25.5,"v":-0.36},
{"lat":-84,"alt":22.5,"v":-0.42},{"lat":-76,"alt":22.5,"v":-0.41},{"lat":-68,"alt":22.5,"v":-0.4},{"lat":-60,"alt":22.5,"v":-0.38},{"lat":-52,"alt":22.5,"v":-0.36},{"lat":-44,"alt":22.5,"v":-0.35},{"lat":-36,"alt":22.5,"v":-0.35},{"lat":-28,"alt":22.5,"v":-0.37},{"lat":-20,"alt":22.5,"v":-0.39},{"lat":-12,"alt":22.5,"v":-0.41},{"lat":-4,"alt":22.5,"v":-0.41},{"lat":4,"alt":22.5,"v":-0.41},{"lat":12,"alt":22.5,"v":-0.41},{"lat":20,"alt":22.5,"v":-0.39},{"lat":28,"alt":22.5,"v":-0.37},{"lat":36,"alt":22.5,"v":-0.35},{"lat":44,"alt":22.5,"v":-0.35},{"lat":52,"alt":22.5,"v":-0.36},{"lat":60,"alt":22.5,"v":-0.38},{"lat":68,"alt":22.5,"v":-0.4},{"lat":76,"alt":22.5,"v":-0.41},{"lat":84,"alt":22.5,"v":-0.42},
{"lat":-84,"alt":19.5,"v":-0.52},{"lat":-76,"alt":19.5,"v":-0.51},{"lat":-68,"alt":19.5,"v":-0.5},{"lat":-60,"alt":19.5,"v":-0.49},{"lat":-52,"alt":19.5,"v":-0.48},{"lat":-44,"alt":19.5,"v":-0.47},{"lat":-36,"alt":19.5,"v":-0.47},{"lat":-28,"alt":19.5,"v":-0.52},{"lat":-20,"alt":19.5,"v":-0.58},{"lat":-12,"alt":19.5,"v":-0.62},{"lat":-4,"alt":19.5,"v":-0.63},{"lat":4,"alt":19.5,"v":-0.63},{"lat":12,"alt":19.5,"v":-0.62},{"lat":20,"alt":19.5,"v":-0.58},{"lat":28,"alt":19.5,"v":-0.52},{"lat":36,"alt":19.5,"v":-0.47},{"lat":44,"alt":19.5,"v":-0.47},{"lat":52,"alt":19.5,"v":-0.48},{"lat":60,"alt":19.5,"v":-0.49},{"lat":68,"alt":19.5,"v":-0.5},{"lat":76,"alt":19.5,"v":-0.5},{"lat":84,"alt":19.5,"v":-0.5},
{"lat":-84,"alt":16.5,"v":-0.6},{"lat":-76,"alt":16.5,"v":-0.59},{"lat":-68,"alt":16.5,"v":-0.59},{"lat":-60,"alt":16.5,"v":-0.59},{"lat":-52,"alt":16.5,"v":-0.59},{"lat":-44,"alt":16.5,"v":-0.59},{"lat":-36,"alt":16.5,"v":-0.6},{"lat":-28,"alt":16.5,"v":-0.67},{"lat":-20,"alt":16.5,"v":-0.76},{"lat":-12,"alt":16.5,"v":-0.81},{"lat":-4,"alt":16.5,"v":-0.83},{"lat":4,"alt":16.5,"v":-0.83},{"lat":12,"alt":16.5,"v":-0.81},{"lat":20,"alt":16.5,"v":-0.76},{"lat":28,"alt":16.5,"v":-0.67},{"lat":36,"alt":16.5,"v":-0.6},{"lat":44,"alt":16.5,"v":-0.59},{"lat":52,"alt":16.5,"v":-0.58},{"lat":60,"alt":16.5,"v":-0.57},{"lat":68,"alt":16.5,"v":-0.57},{"lat":76,"alt":16.5,"v":-0.56},{"lat":84,"alt":16.5,"v":-0.56},
{"lat":-84,"alt":13.5,"v":-0.66},{"lat":-76,"alt":13.5,"v":-0.66},{"lat":-68,"alt":13.5,"v":-0.67},{"lat":-60,"alt":13.5,"v":-0.68},{"lat":-52,"alt":13.5,"v":-0.7},{"lat":-44,"alt":13.5,"v":-0.72},{"lat":-36,"alt":13.5,"v":-0.77},{"lat":-28,"alt":13.5,"v":-0.84},{"lat":-20,"alt":13.5,"v":-0.92},{"lat":-12,"alt":13.5,"v":-0.98},{"lat":-4,"alt":13.5,"v":-1.0},{"lat":4,"alt":13.5,"v":-1.0},{"lat":12,"alt":13.5,"v":-0.99},{"lat":20,"alt":13.5,"v":-0.98},{"lat":28,"alt":13.5,"v":-0.95},{"lat":36,"alt":13.5,"v":-0.88},{"lat":44,"alt":13.5,"v":-0.83},{"lat":52,"alt":13.5,"v":-0.8},{"lat":60,"alt":13.5,"v":-0.8},{"lat":68,"alt":13.5,"v":-0.8},{"lat":76,"alt":13.5,"v":-0.8},{"lat":84,"alt":13.5,"v":-0.8},
{"lat":-84,"alt":10.5,"v":-0.72},{"lat":-76,"alt":10.5,"v":-0.73},{"lat":-68,"alt":10.5,"v":-0.74},{"lat":-60,"alt":10.5,"v":-0.76},{"lat":-52,"alt":10.5,"v":-0.78},{"lat":-44,"alt":10.5,"v":-0.81},{"lat":-36,"alt":10.5,"v":-0.85},{"lat":-28,"alt":10.5,"v":-0.9},{"lat":-20,"alt":10.5,"v":-0.96},{"lat":-12,"alt":10.5,"v":-1.01},{"lat":-4,"alt":10.5,"v":-1.03},{"lat":4,"alt":10.5,"v":-1.05},{"lat":12,"alt":10.5,"v":-1.06},{"lat":20,"alt":10.5,"v":-1.06},{"lat":28,"alt":10.5,"v":-1.06},{"lat":36,"alt":10.5,"v":-1.05},{"lat":44,"alt":10.5,"v":-1.02},{"lat":52,"alt":10.5,"v":-1.02},{"lat":60,"alt":10.5,"v":-1.02},{"lat":68,"alt":10.5,"v":-1.02},{"lat":76,"alt":10.5,"v":-1.02},{"lat":84,"alt":10.5,"v":-1.02},
{"lat":-84,"alt":7.5,"v":-0.66},{"lat":-76,"alt":7.5,"v":-0.67},{"lat":-68,"alt":7.5,"v":-0.69},{"lat":-60,"alt":7.5,"v":-0.71},{"lat":-52,"alt":7.5,"v":-0.74},{"lat":-44,"alt":7.5,"v":-0.77},{"lat":-36,"alt":7.5,"v":-0.82},{"lat":-28,"alt":7.5,"v":-0.87},{"lat":-20,"alt":7.5,"v":-0.93},{"lat":-12,"alt":7.5,"v":-0.98},{"lat":-4,"alt":7.5,"v":-1.02},{"lat":4,"alt":7.5,"v":-1.06},{"lat":12,"alt":7.5,"v":-1.1},{"lat":20,"alt":7.5,"v":-1.13},{"lat":28,"alt":7.5,"v":-1.16},{"lat":36,"alt":7.5,"v":-1.18},{"lat":44,"alt":7.5,"v":-1.2},{"lat":52,"alt":7.5,"v":-1.22},{"lat":60,"alt":7.5,"v":-1.22},{"lat":68,"alt":7.5,"v":-1.22},{"lat":76,"alt":7.5,"v":-1.22},{"lat":84,"alt":7.5,"v":-1.22},
{"lat":-84,"alt":4.5,"v":-0.58},{"lat":-76,"alt":4.5,"v":-0.59},{"lat":-68,"alt":4.5,"v":-0.62},{"lat":-60,"alt":4.5,"v":-0.65},{"lat":-52,"alt":4.5,"v":-0.69},{"lat":-44,"alt":4.5,"v":-0.72},{"lat":-36,"alt":4.5,"v":-0.76},{"lat":-28,"alt":4.5,"v":-0.81},{"lat":-20,"alt":4.5,"v":-0.87},{"lat":-12,"alt":4.5,"v":-0.94},{"lat":-4,"alt":4.5,"v":-1.0},{"lat":4,"alt":4.5,"v":-1.1},{"lat":12,"alt":4.5,"v":-1.2},{"lat":20,"alt":4.5,"v":-1.27},{"lat":28,"alt":4.5,"v":-1.3},{"lat":36,"alt":4.5,"v":-1.32},{"lat":44,"alt":4.5,"v":-1.36},{"lat":52,"alt":4.5,"v":-1.38},{"lat":60,"alt":4.5,"v":-1.38},{"lat":68,"alt":4.5,"v":-1.39},{"lat":76,"alt":4.5,"v":-1.39},{"lat":84,"alt":4.5,"v":-1.39},
{"lat":-84,"alt":1.5,"v":-0.3},{"lat":-76,"alt":1.5,"v":-0.38},{"lat":-68,"alt":1.5,"v":-0.43},{"lat":-60,"alt":1.5,"v":-0.48},{"lat":-52,"alt":1.5,"v":-0.53},{"lat":-44,"alt":1.5,"v":-0.58},{"lat":-36,"alt":1.5,"v":-0.65},{"lat":-28,"alt":1.5,"v":-0.74},{"lat":-20,"alt":1.5,"v":-0.82},{"lat":-12,"alt":1.5,"v":-0.92},{"lat":-4,"alt":1.5,"v":-1.02},{"lat":4,"alt":1.5,"v":-1.2},{"lat":12,"alt":1.5,"v":-1.33},{"lat":20,"alt":1.5,"v":-1.38},{"lat":28,"alt":1.5,"v":-1.4},{"lat":36,"alt":1.5,"v":-1.42},{"lat":44,"alt":1.5,"v":-1.46},{"lat":52,"alt":1.5,"v":-1.48},{"lat":60,"alt":1.5,"v":-1.52},{"lat":68,"alt":1.5,"v":-1.54},{"lat":76,"alt":1.5,"v":-1.55},{"lat":84,"alt":1.5,"v":-1.52}],
"lc":[{"c":"a","lat":-86,"alt":32.2},{"c":"a","lat":-52,"alt":26},{"c":"a2","lat":-34.3,"alt":26},{"c":"a2","lat":1.2,"alt":27.2},{"c":"a2","lat":34,"alt":27.2},{"c":"a3","lat":52.6,"alt":25.5},{"c":"a3","lat":86,"alt":32.4},
{"c":"b","lat":-86,"alt":22.9},{"c":"b","lat":-69.7,"alt":22.6},{"c":"b","lat":-52,"alt":19.7},{"c":"b2","lat":-34,"alt":19.3},{"c":"b2","lat":-20,"alt":22},{"c":"b2","lat":1.2,"alt":22.9},{"c":"b2","lat":19,"alt":22.6},{"c":"b2","lat":34,"alt":20},{"c":"b3","lat":52.6,"alt":19.9},{"c":"b3","lat":86,"alt":23.4},
{"c":"d","lat":-86,"alt":15},{"c":"d","lat":-52,"alt":15},{"c":"d2","lat":-34.3,"alt":15.6},{"c":"d2","lat":-20,"alt":19.4},{"c":"d2","lat":1.2,"alt":19.9},{"c":"d2","lat":15.4,"alt":19.7},{"c":"d2","lat":36.7,"alt":14.5},{"c":"d3","lat":52.6,"alt":15},{"c":"d3","lat":86,"alt":17.1},
{"c":"e","lat":-32.5,"alt":13.9},{"c":"e","lat":-18.3,"alt":17.9},{"c":"e","lat":1.2,"alt":19},{"c":"e","lat":19,"alt":17.9},{"c":"e","lat":37.6,"alt":13.3},{"c":"e2","lat":52.6,"alt":13.3},{"c":"e2","lat":86,"alt":13.3},{"c":"e3","lat":-47.5,"alt":9.3},{"c":"e3","lat":-34.3,"alt":3.5},{"c":"e3","lat":-16.5,"alt":0.2},
{"c":"f","lat":-8.5,"alt":0},{"c":"f","lat":-11.2,"alt":9.3},{"c":"f","lat":-5.9,"alt":13.9},{"c":"f","lat":22.5,"alt":13.9},{"c":"f2","lat":50.9,"alt":11},{"c":"f2","lat":86,"alt":10.6},
{"c":"g","lat":-0.6,"alt":0},{"c":"g","lat":6.5,"alt":3.5},{"c":"g","lat":33,"alt":6.4},{"c":"g2","lat":52.6,"alt":8.7},{"c":"g2","lat":86,"alt":8.7},
{"c":"h","lat":3,"alt":0.6},{"c":"h","lat":36.7,"alt":2.3},{"c":"h2","lat":52.6,"alt":4.6},{"c":"h2","lat":86,"alt":5.2},
{"c":"i","lat":45.5,"alt":0.2},{"c":"i","lat":68.6,"alt":1.7},{"c":"i","lat":86,"alt":0.2},
{"c":"j","lat":-86,"alt":5.2},{"c":"j","lat":-78.6,"alt":4},{"c":"j","lat":-59,"alt":1.7},{"c":"j","lat":-41.3,"alt":0},
{"c":"m","lat":-86,"alt":2.3},{"c":"m","lat":-82,"alt":0.2}],
"lt":[{"lat":-44,"alt":24.9,"t":"-0.2"},{"lat":-44,"alt":18.4,"t":"-0.4"},{"lat":-43,"alt":14.6,"t":"-0.6"},{"lat":-42,"alt":10.8,"t":"-0.8"},{"lat":43,"alt":24.9,"t":"-0.2"},{"lat":43,"alt":19.7,"t":"-0.4"},{"lat":43,"alt":15.6,"t":"-0.6"},{"lat":44,"alt":11.5,"t":"-0.8"},{"lat":29.6,"alt":11.9,"t":"-1"},{"lat":42,"alt":6.5,"t":"-1.2"},{"lat":44.6,"alt":2.2,"t":"-1.4"}],
"mb":[{"lat":-86.1,"lat2":86.1,"alt":0,"alt2":50,"v":-0.0006},{"lat":12,"lat2":50,"alt":35,"alt2":50,"v":0.0006},{"lat":15,"lat2":47,"alt":30,"alt2":35,"v":0.0006},{"lat":30,"lat2":44,"alt":26,"alt2":30,"v":0.0006}],
"m":[{"lat":24,"alt":7.5,"v":-0.001},{"lat":30,"alt":7.5,"v":-0.001},{"lat":36,"alt":7.5,"v":-0.002},{"lat":42,"alt":7.5,"v":-0.002},{"lat":48,"alt":7.5,"v":-0.002},{"lat":54,"alt":7.5,"v":-0.002},{"lat":60,"alt":7.5,"v":-0.002},{"lat":66,"alt":7.5,"v":-0.003},{"lat":72,"alt":7.5,"v":-0.003},{"lat":78,"alt":7.5,"v":-0.003},{"lat":84,"alt":7.5,"v":-0.003},
{"lat":24,"alt":6.5,"v":-0.001},{"lat":30,"alt":6.5,"v":-0.002},{"lat":36,"alt":6.5,"v":-0.002},{"lat":42,"alt":6.5,"v":-0.003},{"lat":48,"alt":6.5,"v":-0.003},{"lat":54,"alt":6.5,"v":-0.003},{"lat":60,"alt":6.5,"v":-0.004},{"lat":66,"alt":6.5,"v":-0.004},{"lat":72,"alt":6.5,"v":-0.004},{"lat":78,"alt":6.5,"v":-0.004},{"lat":84,"alt":6.5,"v":-0.004},
{"lat":24,"alt":5.5,"v":-0.002},{"lat":30,"alt":5.5,"v":-0.002},{"lat":36,"alt":5.5,"v":-0.003},{"lat":42,"alt":5.5,"v":-0.004},{"lat":48,"alt":5.5,"v":-0.005},{"lat":54,"alt":5.5,"v":-0.005},{"lat":60,"alt":5.5,"v":-0.005},{"lat":66,"alt":5.5,"v":-0.006},{"lat":72,"alt":5.5,"v":-0.006},{"lat":78,"alt":5.5,"v":-0.006},{"lat":84,"alt":5.5,"v":-0.006},
{"lat":24,"alt":4.5,"v":-0.002},{"lat":30,"alt":4.5,"v":-0.003},{"lat":36,"alt":4.5,"v":-0.004},{"lat":42,"alt":4.5,"v":-0.006},{"lat":48,"alt":4.5,"v":-0.008},{"lat":54,"alt":4.5,"v":-0.008},{"lat":60,"alt":4.5,"v":-0.009},{"lat":66,"alt":4.5,"v":-0.009},{"lat":72,"alt":4.5,"v":-0.009},{"lat":78,"alt":4.5,"v":-0.009},{"lat":84,"alt":4.5,"v":-0.009},
{"lat":24,"alt":3.5,"v":-0.002},{"lat":30,"alt":3.5,"v":-0.004},{"lat":36,"alt":3.5,"v":-0.006},{"lat":42,"alt":3.5,"v":-0.009},{"lat":48,"alt":3.5,"v":-0.012},{"lat":54,"alt":3.5,"v":-0.013},{"lat":60,"alt":3.5,"v":-0.014},{"lat":66,"alt":3.5,"v":-0.014},{"lat":72,"alt":3.5,"v":-0.014},{"lat":78,"alt":3.5,"v":-0.013},{"lat":84,"alt":3.5,"v":-0.013},
{"lat":24,"alt":2.5,"v":-0.003},{"lat":30,"alt":2.5,"v":-0.005},{"lat":36,"alt":2.5,"v":-0.009},{"lat":42,"alt":2.5,"v":-0.014},{"lat":48,"alt":2.5,"v":-0.017},{"lat":54,"alt":2.5,"v":-0.019},{"lat":60,"alt":2.5,"v":-0.02},{"lat":66,"alt":2.5,"v":-0.02},{"lat":72,"alt":2.5,"v":-0.02},{"lat":78,"alt":2.5,"v":-0.019},{"lat":84,"alt":2.5,"v":-0.019},
{"lat":24,"alt":1.5,"v":-0.004},{"lat":30,"alt":1.5,"v":-0.007},{"lat":36,"alt":1.5,"v":-0.014},{"lat":42,"alt":1.5,"v":-0.02},{"lat":48,"alt":1.5,"v":-0.022},{"lat":54,"alt":1.5,"v":-0.024},{"lat":60,"alt":1.5,"v":-0.026},{"lat":66,"alt":1.5,"v":-0.026},{"lat":72,"alt":1.5,"v":-0.025},{"lat":78,"alt":1.5,"v":-0.024},{"lat":84,"alt":1.5,"v":-0.022},
{"lat":24,"alt":0.5,"v":-0.004},{"lat":30,"alt":0.5,"v":-0.01},{"lat":36,"alt":0.5,"v":-0.018},{"lat":42,"alt":0.5,"v":-0.024},{"lat":48,"alt":0.5,"v":-0.024},{"lat":54,"alt":0.5,"v":-0.026},{"lat":60,"alt":0.5,"v":-0.03},{"lat":66,"alt":0.5,"v":-0.034},{"lat":72,"alt":0.5,"v":-0.028},{"lat":78,"alt":0.5,"v":-0.026},{"lat":84,"alt":0.5,"v":-0.024}],
"mc":[{"c":"a","lat":30,"alt":0.2},{"c":"a","lat":42,"alt":1.6},{"c":"a","lat":53,"alt":2.5},{"c":"a","lat":86,"alt":2.5},{"c":"b","lat":63.6,"alt":0.2},{"c":"b","lat":66,"alt":1.4},{"c":"b","lat":70.7,"alt":0.2}],
"nb":[{"lat":-86.1,"lat2":86.1,"alt":0,"alt2":50,"v":-0.00005}],
"n":[{"lat":30,"alt":2.45,"v":-0.00015},{"lat":32,"alt":2.45,"v":-0.00025},{"lat":34,"alt":2.45,"v":-0.00025},{"lat":36,"alt":2.45,"v":-0.00035},{"lat":38,"alt":2.45,"v":-0.0005},{"lat":40,"alt":2.45,"v":-0.0006},{"lat":42,"alt":2.45,"v":-0.0005},{"lat":44,"alt":2.45,"v":-0.00025},{"lat":46,"alt":2.45,"v":-0.00015},
{"lat":30,"alt":1.75,"v":-0.00025},{"lat":32,"alt":1.75,"v":-0.00035},{"lat":34,"alt":1.75,"v":-0.00045},{"lat":36,"alt":1.75,"v":-0.00055},{"lat":38,"alt":1.75,"v":-0.00065},{"lat":40,"alt":1.75,"v":-0.00075},{"lat":42,"alt":1.75,"v":-0.00075},{"lat":44,"alt":1.75,"v":-0.00055},{"lat":46,"alt":1.75,"v":-0.00035},{"lat":48,"alt":1.75,"v":-0.00025},{"lat":50,"alt":1.75,"v":-0.00015},{"lat":52,"alt":1.75,"v":-0.00015},
{"lat":28,"alt":1.05,"v":-0.00015},{"lat":30,"alt":1.05,"v":-0.00035},{"lat":32,"alt":1.05,"v":-0.00045},{"lat":34,"alt":1.05,"v":-0.00055},{"lat":36,"alt":1.05,"v":-0.00065},{"lat":38,"alt":1.05,"v":-0.00075},{"lat":40,"alt":1.05,"v":-0.00085},{"lat":42,"alt":1.05,"v":-0.00075},{"lat":44,"alt":1.05,"v":-0.00055},{"lat":46,"alt":1.05,"v":-0.00045},{"lat":48,"alt":1.05,"v":-0.00025},{"lat":50,"alt":1.05,"v":-0.00015},
{"lat":28,"alt":0.35,"v":-0.00015},{"lat":30,"alt":0.35,"v":-0.00025},{"lat":32,"alt":0.35,"v":-0.00035},{"lat":34,"alt":0.35,"v":-0.00045},{"lat":36,"alt":0.35,"v":-0.00055},{"lat":38,"alt":0.35,"v":-0.00075},{"lat":40,"alt":0.35,"v":-0.00075},{"lat":42,"alt":0.35,"v":-0.00065},{"lat":44,"alt":0.35,"v":-0.00045},{"lat":46,"alt":0.35,"v":-0.00035},{"lat":48,"alt":0.35,"v":-0.00025},{"lat":50,"alt":0.35,"v":-0.00015},
{"lat":62,"alt":1.05,"v":-0.00015},{"lat":64,"alt":1.05,"v":-0.00025},{"lat":66,"alt":1.05,"v":-0.00045},{"lat":68,"alt":1.05,"v":-0.00025},{"lat":70,"alt":1.05,"v":-0.00015},{"lat":62,"alt":0.35,"v":-0.00015},{"lat":64,"alt":0.35,"v":-0.00035},{"lat":66,"alt":0.35,"v":-0.00055},{"lat":68,"alt":0.35,"v":-0.00035},{"lat":70,"alt":0.35,"v":-0.00015},
{"lat":16,"alt":0.7,"v":-0.00015},{"lat":18,"alt":0.7,"v":-0.00015},{"lat":20,"alt":0.7,"v":-0.00015},{"lat":-34,"alt":1.75,"v":-0.00015}],
"ob":[{"lat":-86.1,"lat2":86.1,"alt":0,"alt2":50,"v":-0.0003}],
"o":[{"lat":20,"alt":4.5,"v":-0.0005},{"lat":24,"alt":4.5,"v":-0.0006},{"lat":28,"alt":4.5,"v":-0.0009},{"lat":32,"alt":4.5,"v":-0.0008},{"lat":36,"alt":4.5,"v":-0.0006},{"lat":40,"alt":4.5,"v":-0.0005},
{"lat":12,"alt":3.5,"v":-0.0005},{"lat":16,"alt":3.5,"v":-0.0008},{"lat":20,"alt":3.5,"v":-0.0012},{"lat":24,"alt":3.5,"v":-0.0016},{"lat":28,"alt":3.5,"v":-0.0018},{"lat":32,"alt":3.5,"v":-0.0017},{"lat":36,"alt":3.5,"v":-0.0014},{"lat":40,"alt":3.5,"v":-0.0012},{"lat":44,"alt":3.5,"v":-0.001},{"lat":48,"alt":3.5,"v":-0.0008},{"lat":52,"alt":3.5,"v":-0.0006},
{"lat":8,"alt":2.5,"v":-0.0006},{"lat":12,"alt":2.5,"v":-0.0012},{"lat":16,"alt":2.5,"v":-0.0018},{"lat":20,"alt":2.5,"v":-0.0027},{"lat":24,"alt":2.5,"v":-0.0031},{"lat":28,"alt":2.5,"v":-0.0036},{"lat":32,"alt":2.5,"v":-0.0034},{"lat":36,"alt":2.5,"v":-0.0029},{"lat":40,"alt":2.5,"v":-0.0028},{"lat":44,"alt":2.5,"v":-0.0024},{"lat":48,"alt":2.5,"v":-0.0016},{"lat":52,"alt":2.5,"v":-0.001},{"lat":56,"alt":2.5,"v":-0.0007},
{"lat":4,"alt":1.5,"v":-0.0006},{"lat":8,"alt":1.5,"v":-0.0014},{"lat":12,"alt":1.5,"v":-0.0028},{"lat":16,"alt":1.5,"v":-0.0046},{"lat":20,"alt":1.5,"v":-0.0052},{"lat":24,"alt":1.5,"v":-0.0051},{"lat":28,"alt":1.5,"v":-0.0056},{"lat":32,"alt":1.5,"v":-0.0062},{"lat":36,"alt":1.5,"v":-0.0052},{"lat":40,"alt":1.5,"v":-0.0056},{"lat":44,"alt":1.5,"v":-0.0048},{"lat":48,"alt":1.5,"v":-0.0028},{"lat":52,"alt":1.5,"v":-0.0018},{"lat":56,"alt":1.5,"v":-0.001},{"lat":60,"alt":1.5,"v":-0.0007},
{"lat":4,"alt":0.5,"v":-0.0006},{"lat":8,"alt":0.5,"v":-0.0014},{"lat":12,"alt":0.5,"v":-0.0026},{"lat":16,"alt":0.5,"v":-0.0044},{"lat":20,"alt":0.5,"v":-0.0064},{"lat":24,"alt":0.5,"v":-0.0052},{"lat":28,"alt":0.5,"v":-0.0036},{"lat":32,"alt":0.5,"v":-0.0062},{"lat":36,"alt":0.5,"v":-0.0048},{"lat":40,"alt":0.5,"v":-0.0042},{"lat":44,"alt":0.5,"v":-0.004},{"lat":48,"alt":0.5,"v":-0.0024},{"lat":52,"alt":0.5,"v":-0.0014},{"lat":56,"alt":0.5,"v":0.0004},{"lat":60,"alt":0.5,"v":0.001},{"lat":64,"alt":0.5,"v":0.0002},{"lat":68,"alt":0.5,"v":-0.0024},
{"lat":-32,"alt":2.5,"v":-0.0005},{"lat":-28,"alt":2.5,"v":-0.0006},{"lat":-24,"alt":2.5,"v":-0.0007},{"lat":-20,"alt":2.5,"v":-0.0007},{"lat":-16,"alt":2.5,"v":-0.0006},{"lat":-12,"alt":2.5,"v":-0.0005},
{"lat":-32,"alt":1.5,"v":-0.0007},{"lat":-28,"alt":1.5,"v":-0.001},{"lat":-24,"alt":1.5,"v":-0.0012},{"lat":-20,"alt":1.5,"v":-0.0012},{"lat":-16,"alt":1.5,"v":-0.0011},{"lat":-12,"alt":1.5,"v":-0.0009},{"lat":-8,"alt":1.5,"v":-0.0006},
{"lat":-32,"alt":0.5,"v":-0.0005},{"lat":-28,"alt":0.5,"v":-0.0006},{"lat":-24,"alt":0.5,"v":-0.0007},{"lat":-20,"alt":0.5,"v":-0.0007},{"lat":-16,"alt":0.5,"v":-0.0007},{"lat":-12,"alt":0.5,"v":-0.0006},{"lat":-8,"alt":0.5,"v":-0.0005}]
},
"columns":3,"align":"none","bounds":"flush","spacing":{"row":183,"column":12},"resolve":{"scale":{"color":"independent"}},"concat":[
{"width":148,"height":145,"data":{"values":[{"a":1}]},"mark":{"type":"text","text":""}},
{"width":495,"height":145,"title":"Methane dif. (ppbv) wind minus base","layer":[
{"data":{"name":"k"},"mark":{"type":"rect","width":18,"height":9,"clip":true},"encoding":{"color":{"field":"v","type":"quantitative","legend":null,"scale":{"domain":[-4.8,-3.17,-1.4,0.1,1.73,3.36,5.0,6.6,8.8],"range":["#0c0c8a","#1f1fe6","#1a90ff","#10f0f0","#90f080","#ffff10","#ffa010","#ff3010","#8f1403"]}}}},
{"data":{"name":"kc"},"mark":{"type":"line","color":"#111","strokeWidth":2.4,"interpolate":"cardinal","clip":true},"encoding":{"detail":{"field":"c"},"order":{"value":null}}},
{"data":{"name":"kt"},"mark":{"type":"text","font":"Liberation Serif","fontSize":20,"color":"#222"},"encoding":{"text":{"field":"t"}}},
{"data":{"values":[{"lat":-138.3,"alt":-42.4,"t":"(k)"}]},"mark":{"type":"text","font":"Liberation Serif","fontSize":30,"align":"left","baseline":"middle","color":"#111"},"encoding":{"text":{"field":"t"}}}],
"encoding":{"x":{"field":"lat","type":"quantitative","scale":{"domain":[-86.1,86.1],"nice":false},"axis":{"title":"Latitude (degrees)","values":[-80,-70,-60,-50,-40,-30,-20,-10,0,10,20,30,40,50,60,70,80],"tickSize":{"condition":{"test":"datum.value%20==0","value":20},"value":10},"tickWidth":2,"labelExpr":"datum.value%20==0?''+datum.value:''","labelPadding":4,"titlePadding":9}},"y":{"field":"alt","type":"quantitative","scale":{"domain":[0,50],"nice":false},"axis":{"title":"Altitude (km)","values":[0,5,10,15,20,25,30,35,40,45,50],"tickSize":{"condition":{"test":"datum.value%10==0","value":20},"value":8},"tickWidth":3,"labelExpr":"datum.value%10==0?''+datum.value:''","labelPadding":14,"labelOffset":2,"titlePadding":17}}}},
{"width":28,"height":145,"view":{"stroke":"#111","strokeWidth":2},"data":{"values":[{"v":-4.6},{"v":-4.2},{"v":-3.8},{"v":-3.4},{"v":-3},{"v":-2.6},{"v":-2.2},{"v":-1.8},{"v":-1.4},{"v":-1},{"v":-0.6},{"v":-0.2},{"v":0.2},{"v":0.6},{"v":1},{"v":1.4},{"v":1.8},{"v":2.2},{"v":2.6},{"v":3},{"v":3.4},{"v":3.8},{"v":4.2},{"v":4.6},{"v":5},{"v":5.4},{"v":5.8},{"v":6.2},{"v":6.6},{"v":7},{"v":7.4},{"v":7.8},{"v":8.2},{"v":8.6}]},"mark":{"type":"rect","height":5,"opacity":0.8,"clip":true},"encoding":{"y":{"field":"v","type":"quantitative","scale":{"domain":[-4.8,8.8],"nice":false},"axis":{"orient":"right","title":null,"values":[-4,-3,-2,-1,0,1,2,3,4,5,6,7,8],"tickSize":{"condition":{"test":"datum.value%5==0","value":14},"value":10},"tickWidth":3,"labelExpr":"datum.value%5==0?''+datum.value:''","labelPadding":2}},"color":{"field":"v","type":"quantitative","legend":null,"scale":{"domain":[-4.8,-3.17,-1.4,0.1,1.73,3.36,5.0,6.6,8.8],"range":["#0c0c8a","#1f1fe6","#1a90ff","#10f0f0","#90f080","#ffff10","#ffa010","#ff3010","#8f1403"]}}}},
{"width":144,"height":145,"data":{"values":[{"a":1}]},"mark":{"type":"text","text":""}},
{"width":494,"height":145,"title":"Peroxyacetyl nitrate dif. (ppbv) wind minus base","layer":[
{"data":{"name":"l"},"mark":{"type":"rect","width":23.5,"height":9,"clip":true},"encoding":{"color":{"field":"v","type":"quantitative","legend":null,"scale":{"domain":[-1.58,-1.388,-1.18,-1.004,-0.812,-0.62,-0.428,-0.236,0.02],"range":["#0c0c8a","#1f1fe6","#1a90ff","#10f0f0","#90f080","#ffff10","#ffa010","#ff3010","#8f1403"]}}}},
{"data":{"name":"lc"},"mark":{"type":"line","color":"#111","strokeWidth":2.4,"interpolate":"cardinal","clip":true},"encoding":{"detail":{"field":"c"},"order":{"value":null}}},
{"data":{"name":"lt"},"mark":{"type":"text","font":"Liberation Serif","fontSize":16,"color":"#222"},"encoding":{"text":{"field":"t"}}},
{"data":{"values":[{"lat":-136.2,"alt":-42,"t":"(l)"}]},"mark":{"type":"text","font":"Liberation Serif","fontSize":30,"align":"left","baseline":"middle","color":"#111"},"encoding":{"text":{"field":"t"}}}],
"encoding":{"x":{"field":"lat","type":"quantitative","scale":{"domain":[-86.1,86.1],"nice":false},"axis":{"title":"Latitude (degrees)","values":[-80,-70,-60,-50,-40,-30,-20,-10,0,10,20,30,40,50,60,70,80],"tickSize":{"condition":{"test":"datum.value%20==0","value":20},"value":10},"tickWidth":2,"labelExpr":"datum.value%20==0?''+datum.value:''","labelPadding":4,"titlePadding":9}},"y":{"field":"alt","type":"quantitative","scale":{"domain":[0,50],"nice":false},"axis":{"title":"Altitude (km)","values":[0,5,10,15,20,25,30,35,40,45,50],"tickSize":{"condition":{"test":"datum.value%10==0","value":20},"value":8},"tickWidth":3,"labelExpr":"datum.value%10==0?''+datum.value:''","labelPadding":14,"labelOffset":2,"titlePadding":17}}}},
{"width":28,"height":145,"view":{"stroke":"#111","strokeWidth":2},"data":{"values":[{"v":-1.55},{"v":-1.5},{"v":-1.45},{"v":-1.4},{"v":-1.35},{"v":-1.3},{"v":-1.25},{"v":-1.2},{"v":-1.15},{"v":-1.1},{"v":-1.05},{"v":-1},{"v":-0.95},{"v":-0.9},{"v":-0.85},{"v":-0.8},{"v":-0.75},{"v":-0.7},{"v":-0.65},{"v":-0.6},{"v":-0.55},{"v":-0.5},{"v":-0.45},{"v":-0.4},{"v":-0.35},{"v":-0.3},{"v":-0.25},{"v":-0.2},{"v":-0.15},{"v":-0.1},{"v":-0.05},{"v":0}]},"mark":{"type":"rect","height":5,"opacity":0.8,"clip":true},"encoding":{"y":{"field":"v","type":"quantitative","scale":{"domain":[-1.58,0.02],"nice":false},"axis":{"orient":"right","title":null,"values":[0,-0.5,-1,-1.5],"tickSize":{"condition":{"test":"datum.value%1==0","value":14},"value":10},"tickWidth":3,"labelExpr":"datum.value%1==0?''+datum.value:''","labelPadding":2}},"color":{"field":"v","type":"quantitative","legend":null,"scale":{"domain":[-1.58,-1.388,-1.18,-1.004,-0.812,-0.62,-0.428,-0.236,0.02],"range":["#0c0c8a","#1f1fe6","#1a90ff","#10f0f0","#90f080","#ffff10","#ffa010","#ff3010","#8f1403"]}}}},
{"width":148,"height":145,"data":{"values":[{"a":1}]},"mark":{"type":"text","text":""}},
{"width":495,"height":145,"title":"Toluene dif. (ppbv) wind minus base","layer":[
{"data":{"name":"mb"},"mark":{"type":"rect","clip":true},"encoding":{"x2":{"field":"lat2"},"y2":{"field":"alt2"},"color":{"field":"v","type":"quantitative","legend":null,"scale":{"domain":[-0.0625,-0.0549,-0.0466,-0.0396,-0.032,-0.0244,-0.0168,-0.0092,0.001],"range":["#0c0c8a","#1f1fe6","#1a90ff","#10f0f0","#90f080","#ffff10","#ffa010","#ff3010","#8f1403"]}}}},
{"data":{"name":"m"},"mark":{"type":"rect","width":18,"height":3.2,"clip":true},"encoding":{"color":{"field":"v","type":"quantitative","legend":null,"scale":{"domain":[-0.0625,-0.0549,-0.0466,-0.0396,-0.032,-0.0244,-0.0168,-0.0092,0.001],"range":["#0c0c8a","#1f1fe6","#1a90ff","#10f0f0","#90f080","#ffff10","#ffa010","#ff3010","#8f1403"]}}}},
{"data":{"name":"mc"},"mark":{"type":"line","color":"#111","strokeWidth":2.4,"clip":true},"encoding":{"detail":{"field":"c"},"order":{"value":null}}},
{"data":{"values":[{"lat":-138.3,"alt":-41.7,"t":"(m)"}]},"mark":{"type":"text","font":"Liberation Serif","fontSize":30,"align":"left","baseline":"middle","color":"#111"},"encoding":{"text":{"field":"t"}}}],
"encoding":{"x":{"field":"lat","type":"quantitative","scale":{"domain":[-86.1,86.1],"nice":false},"axis":{"title":"Latitude (degrees)","values":[-80,-70,-60,-50,-40,-30,-20,-10,0,10,20,30,40,50,60,70,80],"tickSize":{"condition":{"test":"datum.value%20==0","value":20},"value":10},"tickWidth":2,"labelExpr":"datum.value%20==0?''+datum.value:''","labelPadding":4,"titlePadding":9}},"y":{"field":"alt","type":"quantitative","scale":{"domain":[0,50],"nice":false},"axis":{"title":"Altitude (km)","values":[0,5,10,15,20,25,30,35,40,45,50],"tickSize":{"condition":{"test":"datum.value%10==0","value":20},"value":8},"tickWidth":3,"labelExpr":"datum.value%10==0?''+datum.value:''","labelPadding":14,"labelOffset":2,"titlePadding":17}}}},
{"width":28,"height":145,"view":{"stroke":"#111","strokeWidth":2},"data":{"values":[{"v":-0.062},{"v":-0.06},{"v":-0.058},{"v":-0.056},{"v":-0.054},{"v":-0.052},{"v":-0.05},{"v":-0.048},{"v":-0.046},{"v":-0.044},{"v":-0.042},{"v":-0.04},{"v":-0.038},{"v":-0.036},{"v":-0.034},{"v":-0.032},{"v":-0.03},{"v":-0.028},{"v":-0.026},{"v":-0.024},{"v":-0.022},{"v":-0.02},{"v":-0.018},{"v":-0.016},{"v":-0.014},{"v":-0.012},{"v":-0.01},{"v":-0.008},{"v":-0.006},{"v":-0.004},{"v":-0.002},{"v":0}]},"mark":{"type":"rect","height":5,"opacity":0.8,"clip":true},"encoding":{"y":{"field":"v","type":"quantitative","scale":{"domain":[-0.0625,0.001],"nice":false},"axis":{"orient":"right","title":null,"values":[0,-0.01,-0.02,-0.03,-0.04,-0.05,-0.06],"tickSize":{"condition":{"test":"datum.value==0||datum.value==-0.05","value":14},"value":10},"tickWidth":3,"labelExpr":"datum.value==0||datum.value==-0.05?''+datum.value:''","labelPadding":2}},"color":{"field":"v","type":"quantitative","legend":null,"scale":{"domain":[-0.0625,-0.0549,-0.0466,-0.0396,-0.032,-0.0244,-0.0168,-0.0092,0.001],"range":["#0c0c8a","#1f1fe6","#1a90ff","#10f0f0","#90f080","#ffff10","#ffa010","#ff3010","#8f1403"]}}}},
{"width":148,"height":145,"data":{"values":[{"a":1}]},"mark":{"type":"text","text":""}},
{"width":495,"height":145,"title":"Externally-mixed BC dif. (µg/m³) wind minus base","layer":[
{"data":{"name":"nb"},"mark":{"type":"rect","clip":true},"encoding":{"x2":{"field":"lat2"},"y2":{"field":"alt2"},"color":{"field":"v","type":"quantitative","legend":null,"scale":{"type":"threshold","domain":[-0.0007,-0.0006,-0.0005,-0.0004,-0.0003,-0.0002,-0.0001,0],"range":["#1c1cb0","#2a2af0","#18a0f8","#10f0d0","#90f080","#fff010","#ff9010","#ff3010","#700800"]}}}},
{"data":{"name":"n"},"mark":{"type":"rect","width":6,"height":2.5,"clip":true},"encoding":{"color":{"field":"v","type":"quantitative","legend":null,"scale":{"type":"threshold","domain":[-0.0007,-0.0006,-0.0005,-0.0004,-0.0003,-0.0002,-0.0001,0],"range":["#1c1cb0","#2a2af0","#18a0f8","#10f0d0","#90f080","#fff010","#ff9010","#ff3010","#700800"]}}}},
{"data":{"values":[{"lat":-138.3,"alt":-42.4,"t":"(n)"}]},"mark":{"type":"text","font":"Liberation Serif","fontSize":30,"align":"left","baseline":"middle","color":"#111"},"encoding":{"text":{"field":"t"}}}],
"encoding":{"x":{"field":"lat","type":"quantitative","scale":{"domain":[-86.1,86.1],"nice":false},"axis":{"title":"Latitude (degrees)","values":[-80,-70,-60,-50,-40,-30,-20,-10,0,10,20,30,40,50,60,70,80],"tickSize":{"condition":{"test":"datum.value%20==0","value":20},"value":10},"tickWidth":2,"labelExpr":"datum.value%20==0?''+datum.value:''","labelPadding":4,"titlePadding":9}},"y":{"field":"alt","type":"quantitative","scale":{"domain":[0,50],"nice":false},"axis":{"title":"Altitude (km)","values":[0,5,10,15,20,25,30,35,40,45,50],"tickSize":{"condition":{"test":"datum.value%10==0","value":20},"value":8},"tickWidth":3,"labelExpr":"datum.value%10==0?''+datum.value:''","labelPadding":14,"labelOffset":2,"titlePadding":17}}}},
{"width":28,"height":145,"view":{"stroke":"#111","strokeWidth":2},"data":{"values":[{"v":-0.00084},{"v":-0.00079},{"v":-0.00074},{"v":-0.00069},{"v":-0.00064},{"v":-0.00059},{"v":-0.00054},{"v":-0.00049},{"v":-0.00044},{"v":-0.00039},{"v":-0.00034},{"v":-0.00029},{"v":-0.00024},{"v":-0.00019},{"v":-0.00014},{"v":-0.00009},{"v":-0.00004},{"v":0.00001}]},"mark":{"type":"rect","height":9,"clip":true},"encoding":{"y":{"field":"v","type":"quantitative","scale":{"domain":[-0.00085,0.00002],"nice":false},"axis":{"orient":"right","title":null,"values":[0,-0.0001,-0.0002,-0.0003,-0.0004,-0.0005,-0.0006,-0.0007,-0.0008],"tickSize":{"condition":{"test":"datum.value==0||datum.value==-0.0005","value":14},"value":10},"tickWidth":3,"labelExpr":"datum.value==0||datum.value==-0.0005?''+datum.value:''","labelPadding":2}},"color":{"field":"v","type":"quantitative","legend":null,"scale":{"type":"threshold","domain":[-0.0007,-0.0006,-0.0005,-0.0004,-0.0003,-0.0002,-0.0001,0],"range":["#1c1cb0","#2a2af0","#18a0f8","#10f0d0","#90f080","#fff010","#ff9010","#ff3010","#700800"]}}}},
{"width":148,"height":145,"data":{"values":[{"a":1}]},"mark":{"type":"text","text":""}},
{"width":495,"height":145,"title":"Internally-mixed BC dif. (µg/m³) wind minus base","layer":[
{"data":{"name":"ob"},"mark":{"type":"rect","clip":true},"encoding":{"x2":{"field":"lat2"},"y2":{"field":"alt2"},"color":{"field":"v","type":"quantitative","legend":null,"scale":{"domain":[-0.0087,-0.0075,-0.0062,-0.0051,-0.0039,-0.0027,-0.0015,-0.0003,0.0013],"range":["#0c0c8a","#1f1fe6","#1a90ff","#10f0f0","#90f080","#ffff10","#ffa010","#ff3010","#8f1403"]}}}},
{"data":{"name":"o"},"mark":{"type":"rect","width":12,"height":3.2,"clip":true},"encoding":{"color":{"field":"v","type":"quantitative","legend":null,"scale":{"domain":[-0.0087,-0.0075,-0.0062,-0.0051,-0.0039,-0.0027,-0.0015,-0.0003,0.0013],"range":["#0c0c8a","#1f1fe6","#1a90ff","#10f0f0","#90f080","#ffff10","#ffa010","#ff3010","#8f1403"]}}}},
{"data":{"values":[{"lat":-138.3,"alt":-42.4,"t":"(o)"}]},"mark":{"type":"text","font":"Liberation Serif","fontSize":30,"align":"left","baseline":"middle","color":"#111"},"encoding":{"text":{"field":"t"}}}],
"encoding":{"x":{"field":"lat","type":"quantitative","scale":{"domain":[-86.1,86.1],"nice":false},"axis":{"title":"Latitude (degrees)","values":[-80,-70,-60,-50,-40,-30,-20,-10,0,10,20,30,40,50,60,70,80],"tickSize":{"condition":{"test":"datum.value%20==0","value":20},"value":10},"tickWidth":2,"labelExpr":"datum.value%20==0?''+datum.value:''","labelPadding":4,"titlePadding":9}},"y":{"field":"alt","type":"quantitative","scale":{"domain":[0,50],"nice":false},"axis":{"title":"Altitude (km)","values":[0,5,10,15,20,25,30,35,40,45,50],"tickSize":{"condition":{"test":"datum.value%10==0","value":20},"value":8},"tickWidth":3,"labelExpr":"datum.value%10==0?''+datum.value:''","labelPadding":14,"labelOffset":2,"titlePadding":17}}}},
{"width":28,"height":145,"view":{"stroke":"#111","strokeWidth":2},"data":{"values":[{"v":-0.0086},{"v":-0.0083},{"v":-0.008},{"v":-0.0077},{"v":-0.0074},{"v":-0.0071},{"v":-0.0068},{"v":-0.0065},{"v":-0.0062},{"v":-0.0059},{"v":-0.0056},{"v":-0.0053},{"v":-0.005},{"v":-0.0047},{"v":-0.0044},{"v":-0.0041},{"v":-0.0038},{"v":-0.0035},{"v":-0.0032},{"v":-0.0029},{"v":-0.0026},{"v":-0.0023},{"v":-0.002},{"v":-0.0017},{"v":-0.0014},{"v":-0.0011},{"v":-0.0008},{"v":-0.0005},{"v":-0.0002},{"v":0.0001},{"v":0.0004},{"v":0.0007},{"v":0.001},{"v":0.0012}]},"mark":{"type":"rect","height":5,"opacity":0.8,"clip":true},"encoding":{"y":{"field":"v","type":"quantitative","scale":{"domain":[-0.0087,0.0013],"nice":false},"axis":{"orient":"right","title":null,"values":[0.001,0,-0.001,-0.002,-0.003,-0.004,-0.005,-0.006,-0.007,-0.008],"tickSize":{"condition":{"test":"datum.value==0||datum.value==-0.005","value":14},"value":10},"tickWidth":3,"labelExpr":"datum.value==0||datum.value==-0.005?''+datum.value:''","labelPadding":2}},"color":{"field":"v","type":"quantitative","legend":null,"scale":{"domain":[-0.0087,-0.0075,-0.0062,-0.0051,-0.0039,-0.0027,-0.0015,-0.0003,0.0013],"range":["#0c0c8a","#1f1fe6","#1a90ff","#10f0f0","#90f080","#ffff10","#ffa010","#ff3010","#8f1403"]}}}}
]}
